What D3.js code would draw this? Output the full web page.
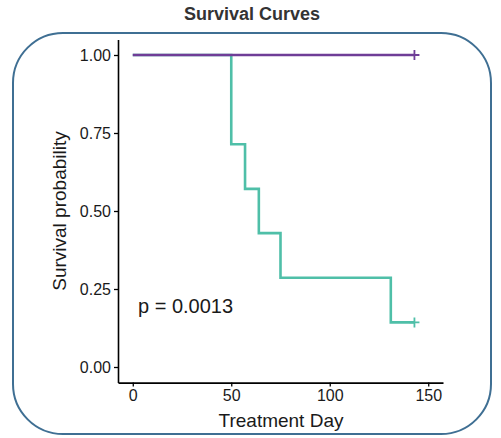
<!DOCTYPE html>
<html>
<head>
<meta charset="utf-8">
<script src="https://cdn.jsdelivr.net/npm/d3@7"></script>
<style>
  body { margin: 0; background: #fff; }
  text { font-family: "Liberation Sans", Arial, sans-serif; }
</style>
</head>
<body>
<div id="chart"></div>
<script>
const width = 501, height = 438;

// survival steps (day, probability); last point is a censor mark
const groupA = [[0, 1], [143, 1]];
const groupB = [[0, 1], [50, 0.714], [57, 0.571], [64, 0.429], [75, 0.286], [131, 0.143], [143, 0.143]];
const censorA = [[143, 1]];
const censorB = [[143, 0.143]];
const xTicks = [0, 50, 100, 150];
const yTicks = [0, 0.25, 0.5, 0.75, 1];
const pLabel = "p = 0.0013";

const svg = d3.select("#chart").append("svg")
    .attr("width", width)
    .attr("height", height);

svg.append("rect")
    .attr("x", 13).attr("y", 33)
    .attr("width", 478).attr("height", 401)
    .attr("rx", 50).attr("ry", 50)
    .attr("fill", "none")
    .attr("stroke", "#3f6f93")
    .attr("stroke-width", 2);

svg.append("text")
    .attr("x", 252).attr("y", 20)
    .attr("text-anchor", "middle")
    .style("font-weight", "bold")
    .style("font-size", "18px")
    .attr("fill", "#333")
    .text("Survival Curves");

const x = d3.scaleLinear().domain([-7.5, 157.5]).range([118, 443]);
const y = d3.scaleLinear().domain([-0.05, 1.05]).range([382.6, 39.4]);

const xAxis = svg.append("g")
    .attr("transform", `translate(0,${y(-0.05)})`)
    .call(d3.axisBottom(x).tickValues(xTicks).tickSize(4).tickSizeOuter(0).tickPadding(3));
const yAxis = svg.append("g")
    .attr("transform", `translate(${x(-7.5)},0)`)
    .call(d3.axisLeft(y).tickValues(yTicks).tickFormat(d3.format(".2f")).tickSize(4).tickSizeOuter(0).tickPadding(3));

[xAxis, yAxis].forEach(a => {
    a.select(".domain").attr("stroke", "#000").attr("stroke-width", 1.6);
    a.selectAll(".tick line").attr("stroke", "#000").attr("stroke-width", 1.3);
    a.selectAll(".tick text").style("font-size", "16px").attr("fill", "#1a1a1a");
});

const line = d3.line()
    .x(d => x(d[0]))
    .y(d => y(d[1]))
    .curve(d3.curveStepAfter);

svg.append("path").datum(groupB)
    .attr("d", line)
    .attr("fill", "none")
    .attr("stroke", "#4fbfa8")
    .attr("stroke-width", 2.6);
svg.append("path").datum(groupA)
    .attr("d", line)
    .attr("fill", "none")
    .attr("stroke", "#6f3d97")
    .attr("stroke-width", 2.6);

function censor(data, color) {
    svg.selectAll(null).data(data).enter().append("path")
        .attr("d", d => `M${x(d[0]) - 5},${y(d[1])}H${x(d[0]) + 5}M${x(d[0])},${y(d[1]) - 5}V${y(d[1]) + 5}`)
        .attr("stroke", color)
        .attr("stroke-width", 1.8);
}
censor(censorA, "#6f3d97");
censor(censorB, "#4fbfa8");

svg.append("text")
    .attr("x", 138).attr("y", 313)
    .style("font-size", "20px")
    .attr("fill", "#1a1a1a")
    .text(pLabel);

svg.append("text")
    .attr("x", 281).attr("y", 427)
    .attr("text-anchor", "middle")
    .style("font-size", "19px")
    .attr("fill", "#1a1a1a")
    .text("Treatment Day");

svg.append("text")
    .attr("transform", `translate(66,${y(0.5)}) rotate(-90)`)
    .attr("text-anchor", "middle")
    .style("font-size", "19px")
    .attr("fill", "#1a1a1a")
    .text("Survival probability");
</script>
</body>
</html>
